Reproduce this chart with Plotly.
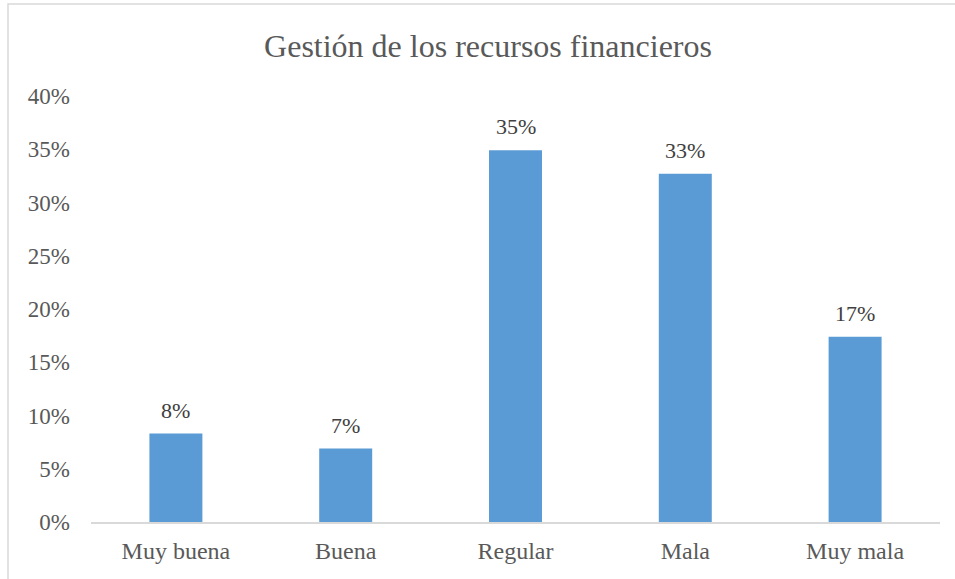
import plotly.graph_objects as go

categories = ["Muy buena", "Buena", "Regular", "Mala", "Muy mala"]
values = [0.083, 0.069, 0.349, 0.327, 0.174]
y_ticks = [0, 0.05, 0.10, 0.15, 0.20, 0.25, 0.30, 0.35, 0.40]
title_text = "Gestión de los recursos financieros"

FONT = "Liberation Serif, Times New Roman, serif"

fig = go.Figure()
fig.add_trace(go.Bar(
    x=categories,
    y=values,
    marker=dict(color="#5B9BD5", line=dict(width=0)),
    hoverinfo="skip",
))

for c, v in zip(categories, values):
    fig.add_annotation(
        x=c, y=v, xref="x", yref="y",
        text=f"{round(v * 100):.0f}%",
        showarrow=False, yanchor="bottom", yshift=9,
        font=dict(family=FONT, size=22, color="#404040"),
    )

W, H = 955, 579
L, R, T, B = 91, 15, 96, 57
pw, ph = W - L - R, H - T - B

def px_x(x):
    return (x - L) / pw

def px_y(y):
    return (H - B - y) / ph

fig.add_shape(
    type="rect", xref="paper", yref="paper",
    x0=px_x(8), x1=px_x(W + 10), y0=px_y(H + 10), y1=px_y(4),
    line=dict(color="#D9D9D9", width=1.5), fillcolor="rgba(0,0,0,0)",
    layer="below",
)

fig.update_layout(
    width=W, height=H,
    margin=dict(l=L, r=R, t=T, b=B),
    paper_bgcolor="white", plot_bgcolor="white",
    bargap=0.688,
    showlegend=False,
    title=dict(
        text=title_text, x=488 / W, xanchor="center", xref="container",
        y=1 - 46 / H, yanchor="middle", yref="container",
        font=dict(family=FONT, size=32, color="#595959"),
    ),
    font=dict(family=FONT, size=23, color="#595959"),
)
fig.update_xaxes(
    showline=True, linecolor="#D9D9D9", linewidth=1.5,
    showgrid=False, ticks="", ticklabelstandoff=6,
    tickfont=dict(family=FONT, size=24, color="#595959"),
)
fig.update_yaxes(
    range=[0, 0.40], tickvals=y_ticks, tickformat=".0%",
    showline=False, showgrid=False, zeroline=False, ticks="",
    ticklabelstandoff=20,
    tickfont=dict(family=FONT, size=23, color="#595959"),
)

fig.write_html(
    "out.html",
    config={"displayModeBar": False},
    post_script="document.body.style.margin='0';document.body.style.padding='0';",
)
